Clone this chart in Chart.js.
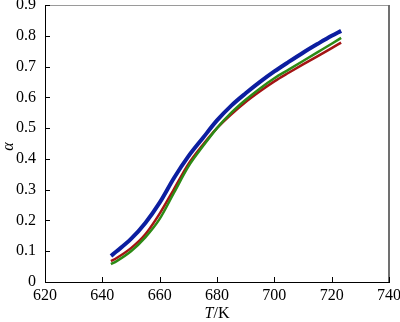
<!DOCTYPE html>
<html>
<head>
<meta charset="utf-8">
<script src="https://cdn.jsdelivr.net/npm/chart.js@4"></script>
<style>
html,body{margin:0;padding:0;background:#fff;}
#c{display:block;}
</style>
</head>
<body>
<canvas id="c" width="400" height="322"></canvas>
<script>
// Temperature (K) sampling points
const temps = [643, 645, 650, 655, 660, 665, 670, 675, 680, 685, 690, 695, 700, 705, 710, 715, 720, 723.3];
// Conversion alpha for each curve
const blueVals  = [0.085, 0.100, 0.140, 0.192, 0.258, 0.338, 0.408, 0.467, 0.525, 0.573, 0.613, 0.650, 0.684, 0.715, 0.745, 0.773, 0.800, 0.816];
const redVals   = [0.068, 0.078, 0.110, 0.155, 0.222, 0.302, 0.383, 0.445, 0.500, 0.545, 0.585, 0.620, 0.652, 0.680, 0.707, 0.733, 0.760, 0.778];
const greenVals = [0.058, 0.068, 0.100, 0.145, 0.205, 0.290, 0.375, 0.440, 0.500, 0.550, 0.592, 0.629, 0.662, 0.690, 0.718, 0.746, 0.774, 0.793];
const xTicks = [620, 640, 660, 680, 700, 720, 740];
const yTicks = [0, 0.1, 0.2, 0.3, 0.4, 0.5, 0.6, 0.7, 0.8, 0.9];

const FONT = "'Liberation Serif', 'DejaVu Serif', serif";

function pts(vals){ return temps.map((t,i)=>({x:t, y:vals[i]})); }

const framePlugin = {
  id: 'frame',
  afterDraw(chart){
    const ctx = chart.ctx;
    const {left, right, top, bottom} = chart.chartArea;
    const xs = chart.scales.x, ys = chart.scales.y;
    ctx.save();
    ctx.strokeStyle = '#9a9a9a';
    ctx.lineWidth = 1;
    ctx.beginPath();
    ctx.moveTo(left, top + 0.5); ctx.lineTo(right, top + 0.5);
    ctx.stroke();
    ctx.strokeStyle = '#707070';
    ctx.lineWidth = 2;
    ctx.beginPath();
    ctx.moveTo(right, top); ctx.lineTo(right, bottom);
    ctx.stroke();
    ctx.strokeStyle = '#000';
    ctx.lineWidth = 1;
    ctx.beginPath();
    xTicks.forEach(v=>{
      const px = Math.round(xs.getPixelForValue(v)) + 0.5;
      ctx.moveTo(px, bottom); ctx.lineTo(px, bottom - 5);
    });
    yTicks.forEach(v=>{
      const py = Math.round(ys.getPixelForValue(v)) + 0.5;
      ctx.moveTo(left, py); ctx.lineTo(left + 5, py);
    });
    ctx.stroke();
    ctx.fillStyle = '#000';
    ctx.textBaseline = 'middle';
    const cx = (left + right) / 2;
    ctx.font = 'italic 16px ' + FONT;
    const wT = ctx.measureText('T').width;
    ctx.font = '16px ' + FONT;
    const wK = ctx.measureText('/K').width;
    let sx = cx - (wT + wK) / 2;
    ctx.textAlign = 'left';
    ctx.font = 'italic 16px ' + FONT;
    ctx.fillText('T', sx, 314);
    ctx.font = '16px ' + FONT;
    ctx.fillText('/K', sx + wT, 314);
    ctx.save();
    ctx.translate(9, (top + bottom) / 2 + 3);
    ctx.rotate(-Math.PI / 2);
    ctx.textAlign = 'center';
    ctx.font = 'italic 16px ' + FONT;
    ctx.fillText('α', 0, 0);
    ctx.restore();
    ctx.restore();
  }
};

new Chart(document.getElementById('c'), {
  type: 'line',
  data: {
    datasets: [
      {label:'green', data: pts(greenVals), borderColor:'#2c8a14', borderWidth:2.5, pointRadius:0, cubicInterpolationMode:'monotone', fill:false},
      {label:'red', data: pts(redVals), borderColor:'#a41414', borderWidth:2.5, pointRadius:0, cubicInterpolationMode:'monotone', fill:false},
      {label:'blue', data: pts(blueVals), borderColor:'#0c1ea0', borderWidth:4, pointRadius:0, cubicInterpolationMode:'monotone', fill:false}
    ]
  },
  options: {
    responsive: false,
    animation: false,
    events: [],
    layout: {padding: {top: 5, right: 11, left: 0, bottom: 0}},
    plugins: {legend: {display:false}, tooltip: {enabled:false}},
    scales: {
      x: {
        type: 'linear', min: 620, max: 740,
        afterBuildTicks(s){ s.ticks = xTicks.map(v=>({value:v})); },
        afterFit(s){ s.height = 40; s.paddingLeft = 0; s.paddingRight = 0; },
        grid: {display:false, drawTicks:false},
        border: {display:true, color:'#000', width:1},
        ticks: {font:{family:FONT, size:16}, color:'#000', padding:4, maxRotation:0, autoSkip:false,
                callback:(v)=>String(v)}
      },
      y: {
        type: 'linear', min: 0, max: 0.9,
        afterBuildTicks(s){ s.ticks = yTicks.map(v=>({value:v})); },
        afterFit(s){ s.width = 45; s.paddingTop = 0; s.paddingBottom = 0; },
        grid: {display:false, drawTicks:false},
        border: {display:true, color:'#000', width:1},
        ticks: {font:{family:FONT, size:16}, color:'#000', padding:9, autoSkip:false,
                callback:(v)=> v===0 ? '0' : Number(v).toFixed(1)}
      }
    }
  },
  plugins: [framePlugin]
});
</script>
</body>
</html>
